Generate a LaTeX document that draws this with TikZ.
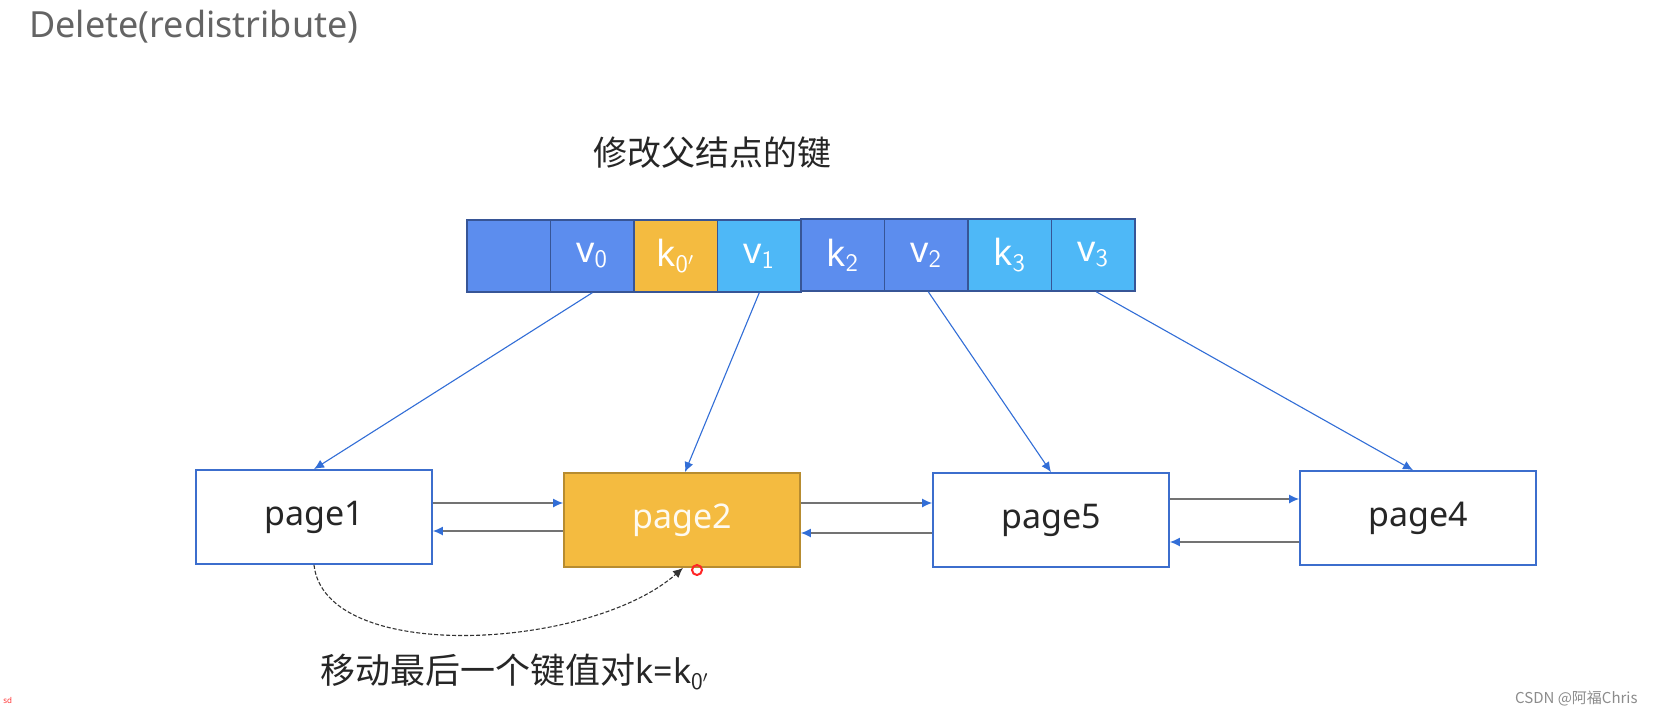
\documentclass[tikz,border=0pt]{standalone}
\usepackage{fontspec}
\setmainfont{Noto Sans}
\newfontfamily\cjk{Noto Sans CJK SC}
\usetikzlibrary{arrows.meta,calc}
\definecolor{mblue}{RGB}{92,141,238}
\definecolor{lblue}{RGB}{78,184,247}
\definecolor{orng}{RGB}{244,187,64}
\definecolor{cellline}{RGB}{55,85,150}
\definecolor{pline}{RGB}{60,110,205}
\definecolor{aline}{RGB}{50,110,215}
\definecolor{ttl}{RGB}{100,100,100}
\tikzset{
  cell/.style={draw=cellline, line width=0.75pt, minimum width=41.75pt, minimum height=36pt, inner sep=0pt, text=white, font=\fontsize{18}{20}\selectfont},
  pagebox/.style={draw=pline, line width=0.9pt, fill=white, minimum width=118pt, minimum height=47pt, inner sep=0pt, font=\fontsize{17}{20}\selectfont, text=black!85},
  link/.style={draw=aline, line width=0.55pt, -{Latex[length=5pt,width=4.5pt]}},
  hlink/.style={draw=black!55, line width=0.6pt, -{Latex[length=5pt,width=4.5pt,color=aline]}},
}
\begin{document}
\begin{tikzpicture}[x=0.5pt,y=-0.5pt]
\useasboundingbox[fill=white] (0,0) rectangle (1660,718);
% title
\node[anchor=west, text=ttl, font=\fontsize{18}{20}\selectfont, inner sep=0pt] (title) at (29,27) {Delete(redistribute)};
\node[font=\cjk\fontsize{17}{20}\selectfont, text=black!85, inner sep=0pt] (parentlbl) at (712,153) {修改父结点的键};
% array
\node[cell, fill=mblue] (c1) at (508.75,256) {};
\node[cell, fill=mblue] (c2) at (592.25,256) {v$_{\mathsf{0}}$};
\node[cell, fill=orng] (c3) at (675.75,256) {k$_{\mathsf{0'}}$};
\node[cell, fill=lblue] (c4) at (759.25,256) {v$_{\mathsf{1}}$};
\node[cell, fill=mblue] (c5) at (842.75,255) {k$_{\mathsf{2}}$};
\node[cell, fill=mblue] (c6) at (926.25,255) {v$_{\mathsf{2}}$};
\node[cell, fill=lblue] (c7) at (1009.75,255) {k$_{\mathsf{3}}$};
\node[cell, fill=lblue] (c8) at (1093.25,255) {v$_{\mathsf{3}}$};
% pages
\node[pagebox] (p1) at (314,517) {page1};
\node[pagebox, fill=orng, draw=orng!75!black, text=white!92!orng] (p2) at (682,520) {page2};
\node[pagebox] (p5) at (1051,520) {page5};
\node[pagebox] (p4) at (1418,518) {page4};
% pointers
\draw[link] (c2.south) -- (p1.north);
\draw[link] (c4.south) -- ([xshift=1.5pt]p2.north);
\draw[link] ([xshift=1pt]c6.south) -- (p5.north);
\draw[link] ([xshift=1.5pt]c8.south) -- ([xshift=-2.5pt]p4.north);
% sibling links
\draw[hlink] (p1.east |- 0,503) -- (p2.west |- 0,503);
\draw[hlink] (p2.west |- 0,531) -- (p1.east |- 0,531);
\draw[hlink] (p2.east |- 0,503) -- (p5.west |- 0,503);
\draw[hlink] (p5.west |- 0,533) -- (p2.east |- 0,533);
\draw[hlink] (p5.east |- 0,499) -- (p4.west |- 0,499);
\draw[hlink] (p4.west |- 0,542) -- (p5.east |- 0,542);
% move arc
\draw[dashed, dash pattern=on 2pt off 1pt, line width=0.55pt, black!80, -{Latex[length=5pt,width=4.5pt]}] (p1.south) .. controls (325,665) and (590,650) .. ([xshift=0.5pt]p2.south);
\node[font=\cjk\fontsize{17.5}{20}\selectfont, text=black!85, anchor=west, inner sep=0pt] (movelbl) at (320,672) {移动最后一个键值对{\fontspec{Noto Sans}\fontsize{17}{20}\selectfont k=k$_{\mathsf{0'}}$}};
% cursor marker
\draw[red!85, line width=1pt] (697,570) circle[radius=2.5pt];
% watermark
\node[font=\cjk\fontsize{7.5}{9}\selectfont, text=black!45, anchor=east, inner sep=0pt] (wm) at (1638,699) {CSDN @阿福Chris};
\node[font=\fontsize{4}{5}\selectfont, text=red!80, anchor=west, inner sep=0pt] (sd) at (3,700) {sd};
\end{tikzpicture}
\end{document}
